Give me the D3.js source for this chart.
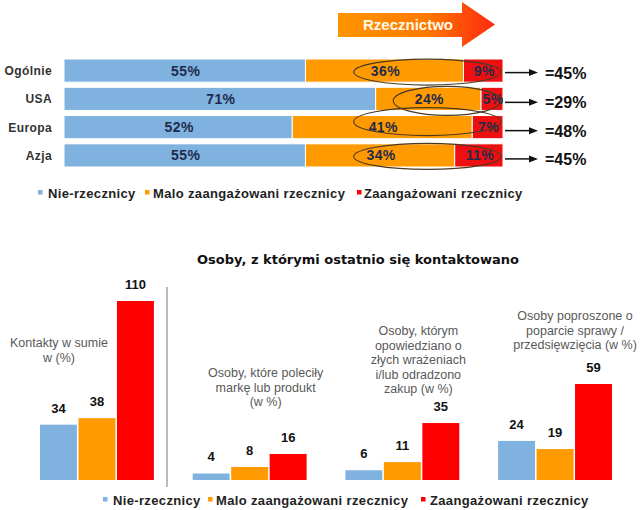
<!DOCTYPE html>
<html>
<head>
<meta charset="utf-8">
<script src="https://cdn.jsdelivr.net/npm/d3@7"></script>
<style>
html,body{margin:0;padding:0;background:#fff;}
svg{display:block;}
</style>
</head>
<body>
<svg id="chart" width="640" height="510"></svg>
<script>
// ---------- DATA ----------
const regions = ["Ogólnie", "USA", "Europa", "Azja"];
const nonAdvocates = [55, 71, 52, 55];
const lowAdvocates = [36, 24, 41, 34];
const engagedAdvocates = [9, 5, 7, 11];
const advocacyTotals = [45, 29, 48, 45];
const ellipseStartPct = [66, 75, 66, 66];
const seriesNames = ["Nie-rzecznicy", "Malo zaangażowani rzecznicy", "Zaangażowani rzecznicy"];
const arrowLabel = "Rzecznictwo";

const contactTitle = "Osoby, z którymi ostatnio się kontaktowano";
const contactGroups = ["g1", "g2", "g3", "g4"];
const contactGroupLabels = [
  ["Kontakty w sumie", "w (%)"],
  ["Osoby, które poleciły", "markę lub produkt", "(w %)"],
  ["Osoby, którym", "opowiedziano o", "złych wrażeniach", "i/lub odradzono", "zakup (w %)"],
  ["Osoby poproszone o", "poparcie sprawy /", "przedsięwzięcia (w %)"]
];
const contactNon = [34, 4, 6, 24];
const contactLow = [38, 8, 11, 19];
const contactEngaged = [110, 16, 35, 59];

// ---------- STYLE ----------
const colors = ["#80b2e0", "#ff9a00", "#ff0000"];
const topColors = ["#80b2e0", "#ff9a00", "#ee1010"];
const svg = d3.select("#chart");
const ARIAL = "'Liberation Sans', Arial, sans-serif";

// ---------- TOP CHART ----------
const x = d3.scaleLinear().domain([0, 100]).range([64, 503]);
const y = d3.scaleBand().domain(regions).range([59, 167]).paddingInner(0.18).paddingOuter(0);

const stackData = regions.map((r, i) => ({region: r, s0: nonAdvocates[i], s1: lowAdvocates[i], s2: engagedAdvocates[i]}));
const stack = d3.stack().keys(["s0", "s1", "s2"])(stackData);

// Rzecznictwo arrow
const defs = svg.append("defs");
const grad = defs.append("linearGradient").attr("id", "arrowGrad").attr("x1", "0").attr("x2", "1").attr("y1", "0").attr("y2", "0");
grad.append("stop").attr("offset", "0%").attr("stop-color", "#ff9500");
grad.append("stop").attr("offset", "55%").attr("stop-color", "#ff7a00");
grad.append("stop").attr("offset", "100%").attr("stop-color", "#ff2a10");
const ax0 = 338, ax1 = 462, axTip = 495, ayTop = 13, ayBot = 37, ahTop = 2, ahBot = 47;
svg.append("path")
  .attr("d", `M${ax0},${ayTop} L${ax1},${ayTop} L${ax1},${ahTop} L${axTip},${(ahTop + ahBot) / 2} L${ax1},${ahBot} L${ax1},${ayBot} L${ax0},${ayBot} Z`)
  .attr("fill", "url(#arrowGrad)");
svg.append("text").attr("x", 408).attr("y", 30).attr("text-anchor", "middle")
  .attr("font-family", ARIAL).attr("font-weight", "bold").attr("font-size", 15)
  .attr("fill", "#fff8e8").text(arrowLabel);

// stacked bars
const layers = svg.append("g").selectAll("g").data(stack).join("g")
  .attr("fill", (d, i) => topColors[i]);
layers.selectAll("rect").data(d => d).join("rect")
  .attr("x", d => x(d[0]))
  .attr("y", d => y(d.data.region))
  .attr("width", d => x(d[1]) - x(d[0]))
  .attr("height", y.bandwidth())
  .attr("stroke", "#fff").attr("stroke-width", 1);

// percentage labels
layers.selectAll("text").data(d => d).join("text")
  .attr("x", d => (x(d[0]) + x(d[1])) / 2 + 1)
  .attr("y", d => y(d.data.region) + y.bandwidth() / 2 + 5)
  .attr("text-anchor", "middle")
  .attr("font-family", ARIAL).attr("font-weight", "bold").attr("font-size", 14)
  .attr("letter-spacing", 0.4)
  .attr("fill", "#1f2b4a")
  .text(d => (d[1] - d[0]) + "%");

// category labels
svg.append("g").selectAll("text").data(regions).join("text")
  .attr("x", 52).attr("y", d => y(d) + y.bandwidth() / 2 + 4.5)
  .attr("text-anchor", "end")
  .attr("font-family", ARIAL).attr("font-weight", "bold").attr("font-size", 12)
  .attr("letter-spacing", 0.4).attr("fill", "#333")
  .text(d => d);

// ellipses
const ellipseDy = [1.5, 2, -5.5, 1];
const ellipseRy = [13, 14.5, 14, 13];
svg.append("g").selectAll("ellipse").data(regions).join("ellipse")
  .attr("cx", (d, i) => (x(ellipseStartPct[i]) + x(100) - 2) / 2)
  .attr("cy", (d, i) => y(d) + y.bandwidth() / 2 + ellipseDy[i])
  .attr("rx", (d, i) => (x(100) - 2 - x(ellipseStartPct[i])) / 2)
  .attr("ry", (d, i) => ellipseRy[i])
  .attr("fill", "none").attr("stroke", "#4a3a22").attr("stroke-width", 1.1);

// arrows & totals
const arrowDy = [2, 3.5, 3.5, 3.5];
const arrowG = svg.append("g").selectAll("g").data(regions).join("g")
  .attr("transform", (d, i) => `translate(0,${y(d) + y.bandwidth() / 2 + arrowDy[i]})`);
arrowG.append("line").attr("x1", 505).attr("x2", 530).attr("y1", 0).attr("y2", 0)
  .attr("stroke", "#111").attr("stroke-width", 1.5);
arrowG.append("path").attr("d", "M529,-3.5 L538,0 L529,3.5 Z").attr("fill", "#111");
arrowG.append("text").attr("x", 545).attr("y", 6)
  .attr("font-family", ARIAL).attr("font-weight", "bold").attr("font-size", 16)
  .attr("fill", "#111")
  .text((d, i) => "=" + advocacyTotals[i] + "%");

// legend helper
function legend(g, xs, yBase, textX) {
  seriesNames.forEach((name, i) => {
    g.append("rect").attr("x", xs[i]).attr("y", yBase - 8).attr("width", 4.5).attr("height", 4.5)
      .attr("fill", colors[i]);
    g.append("text").attr("x", textX[i]).attr("y", yBase)
      .attr("font-family", ARIAL).attr("font-weight", "bold").attr("font-size", 13)
      .attr("letter-spacing", 0.35).attr("fill", "#222").text(name);
  });
}
legend(svg.append("g"), [38, 145, 357], 198, [48, 153, 364]);

// ---------- BOTTOM CHART ----------
svg.append("text").attr("x", 358).attr("y", 264).attr("text-anchor", "middle")
  .attr("font-family", "'DejaVu Sans', Verdana, sans-serif").attr("font-weight", "bold")
  .attr("font-size", 13).attr("fill", "#111").text(contactTitle);

const x0 = d3.scaleBand().domain(contactGroups).range([40, 612]).paddingInner(0.254).paddingOuter(0);
const keys = ["non", "low", "eng"];
const x1 = d3.scaleBand().domain(keys).range([0, x0.bandwidth()]).paddingInner(0.04);
const yb = d3.scaleLinear().domain([0, 110]).range([480, 301]);

const groupData = contactGroups.map((g, i) => ({group: g, vals: [
  {key: "non", v: contactNon[i]}, {key: "low", v: contactLow[i]}, {key: "eng", v: contactEngaged[i]}]}));

const gg = svg.append("g").selectAll("g").data(groupData).join("g")
  .attr("transform", d => `translate(${x0(d.group)},0)`);
gg.selectAll("rect").data(d => d.vals).join("rect")
  .attr("x", d => x1(d.key)).attr("width", x1.bandwidth())
  .attr("y", d => yb(d.v)).attr("height", d => yb(0) - yb(d.v))
  .attr("fill", (d, i) => colors[i]);
gg.selectAll("text.val").data(d => d.vals).join("text").attr("class", "val")
  .attr("x", d => x1(d.key) + x1.bandwidth() / 2)
  .attr("y", d => yb(d.v) - 12)
  .attr("text-anchor", "middle")
  .attr("font-family", ARIAL).attr("font-weight", "bold").attr("font-size", 13)
  .attr("fill", "#111").text(d => d.v);

// group description labels
const labelLayout = [{dx: -38, y: 347}, {dx: 16, y: 377}, {dx: 16, y: 335}, {dx: 20, y: 320}];
gg.each(function(d, i) {
  const g = d3.select(this);
  const cx = x0.bandwidth() / 2 + labelLayout[i].dx;
  contactGroupLabels[i].forEach((line, j) => {
    g.append("text").attr("x", cx).attr("y", labelLayout[i].y + j * 14.5)
      .attr("text-anchor", "middle")
      .attr("font-family", ARIAL).attr("font-size", 12.5)
      .attr("fill", "#595959").text(line);
  });
});

// divider
svg.append("line").attr("x1", 167).attr("x2", 167).attr("y1", 287).attr("y2", 487)
  .attr("stroke", "#8c8c8c").attr("stroke-width", 1.2);

legend(svg.append("g"), [103, 208, 421], 505, [113, 216, 430]);
</script>
</body>
</html>
